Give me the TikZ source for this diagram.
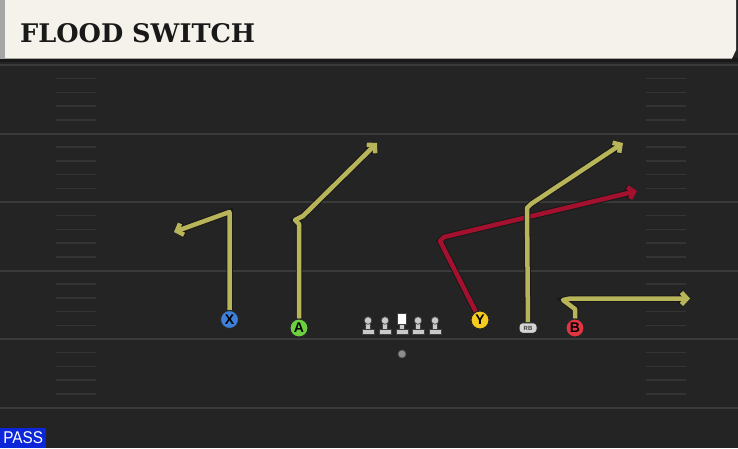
\documentclass[tikz,border=0pt]{standalone}
\usepackage{fontspec}
\usetikzlibrary{arrows.meta}
\newfontfamily\titlefont{DejaVu Serif}
\newfontfamily\uifont{Liberation Sans}
\definecolor{fieldbg}{HTML}{242424}
\definecolor{yardline}{HTML}{3A3A3A}
\definecolor{hashline}{HTML}{343434}
\definecolor{cream}{HTML}{F5F2EB}
\definecolor{passblue}{HTML}{0B27D9}
\definecolor{xblue}{HTML}{3D7FD9}
\definecolor{agreen}{HTML}{6DD13F}
\definecolor{yyellow}{HTML}{F7CB1D}
\definecolor{bred}{HTML}{E3343F}
\definecolor{routey}{HTML}{B8B45A}
\definecolor{router}{HTML}{A3112F}
\definecolor{lmgray}{HTML}{C9C9C9}
\tikzset{
  yard/.style={draw=yardline, line width=2pt},
  hash/.style={draw=hashline, line width=1.5pt},
  route/.style={draw=routey, line width=4.5pt, line join=round,
    -{Straight Barb[length=5.5pt,width=12pt,line join=miter]},
    preaction={draw=black!90, line width=6.5pt, -{Straight Barb[length=5.5pt,width=12pt]}}},
  routered/.style={route, draw=router},
  player/.style={circle, draw=black!85, line width=1pt, minimum size=18pt, inner sep=0pt,
    font=\uifont\bfseries\fontsize{14}{14}\selectfont, text=black},
  rbstyle/.style={fill=lmgray!80, draw=black!85, line width=1pt, rounded corners=3.5pt, minimum width=18pt, minimum height=10.5pt,
    inner sep=0pt, font=\uifont\bfseries\fontsize{6}{6}\selectfont, text=black!75},
  lineman/.pic={
    \fill[lmgray, draw=black!75, line width=0.7pt] (-6,2) rectangle (6,7);
    \fill[lmgray, draw=black!75, line width=0.7pt] (-2.3,-4) rectangle (2.3,2);
    \fill[lmgray, draw=black!75, line width=0.7pt] (0,-6.5) circle (3.8);
  },
  center/.pic={
    \fill[lmgray, draw=black!75, line width=0.7pt] (-6,2) rectangle (6,7);
    \fill[lmgray, draw=black!75, line width=0.7pt] (-2.3,-3) rectangle (2.3,2);
    \fill[white, draw=black!75, line width=0.7pt] (-4.8,-14) rectangle (4.8,-3);
  }
}
\begin{document}
\begin{tikzpicture}[x=1pt,y=-1pt]
\useasboundingbox (0,0) rectangle (738,448);
\fill[fieldbg] (0,0) rectangle (738,448);
% yard lines
\foreach \yy in {65,133.5,202,270.5,339,407.5} \draw[yard] (0,\yy) -- (738,\yy);
% hash marks
\foreach \yy in {65,133.5,202,270.5,339} {
  \foreach \k in {1,2,3,4} {
    \draw[hash] (56,\yy+13.7*\k) -- (96,\yy+13.7*\k);
    \draw[hash] (646,\yy+13.7*\k) -- (686,\yy+13.7*\k);
  }
}
% title bar
\fill[black!90] (0,58) rectangle (738,62);
\fill[cream] (0,0) -- (736,0) -- (736,50) -- (732,58.5) -- (0,58.5) -- cycle;
\fill[black!35] (0,0) rectangle (5,58.5);
\node[anchor=base west, inner sep=0pt, font=\titlefont\bfseries\fontsize{28}{28}\selectfont, text=black!90] (title) at (20,42) {\resizebox{235pt}{!}{FLOOD SWITCH}};
% pass tag
\node[fill=passblue, anchor=south west, minimum width=46pt, minimum height=20pt, inner sep=0pt,
  text=white, font=\uifont\fontsize{17}{17}\selectfont] (pass) at (0,448) {\scalebox{0.9}[1]{PASS}};
% players
\node[player, fill=xblue] (X) at (229.5,319.5) {X};
\node[player, fill=agreen] (A) at (299,328) {A};
\node[player, fill=yyellow] (Y) at (480,320) {Y};
\node[player, fill=bred] (B) at (575,328) {B};
\node[rbstyle] (RB) at (528,328) {RB};
\node[circle, fill=black!45, draw=black!70, line width=0.6pt, minimum size=8pt, inner sep=0pt] (QB) at (402,354) {};
% line
\pic (LT) at (368,327) {lineman};
\pic (LG) at (385,327) {lineman};
\pic (C) at (402,327) {center};
\pic (RG) at (418,327) {lineman};
\pic (RT) at (435,327) {lineman};
% routes
\coordinate (xbreak) at (229.5,212);
\coordinate (xend) at (174,232);
\draw[route] (X) -- (xbreak) -- (xend);
\coordinate (abreak) at (299,224);
\coordinate (ajog1) at (295,220);
\coordinate (ajog2) at (303,216);
\coordinate (aend) at (377,143);
\draw[route] (A) -- (abreak) -- (ajog1) -- (ajog2) -- (aend);
\coordinate (ybreak) at (440,241);
\coordinate (yjog) at (444,237);
\coordinate (yend) at (637,191);
\draw[routered] (Y) -- (ybreak) -- (yjog) -- (yend);
\coordinate (rbbreak) at (527,208);
\coordinate (rbjog) at (531,204);
\coordinate (rbend) at (623,143);
\draw[route] (RB) -- (rbbreak) -- (rbjog) -- (rbend);
\coordinate (bbreak) at (575,309);
\coordinate (bjog1) at (563,300);
\coordinate (bjog2) at (570,298.5);
\coordinate (bend) at (690,298.5);
\draw[route] (B) -- (bbreak) -- (bjog1) -- (bjog2) -- (bend);
% redraw players on top
\node[player, fill=xblue] at (X) {X};
\node[player, fill=agreen] at (A) {A};
\node[player, fill=yyellow] at (Y) {Y};
\node[player, fill=bred] at (B) {B};
\node[rbstyle] at (RB) {RB};
\end{tikzpicture}
\end{document}
